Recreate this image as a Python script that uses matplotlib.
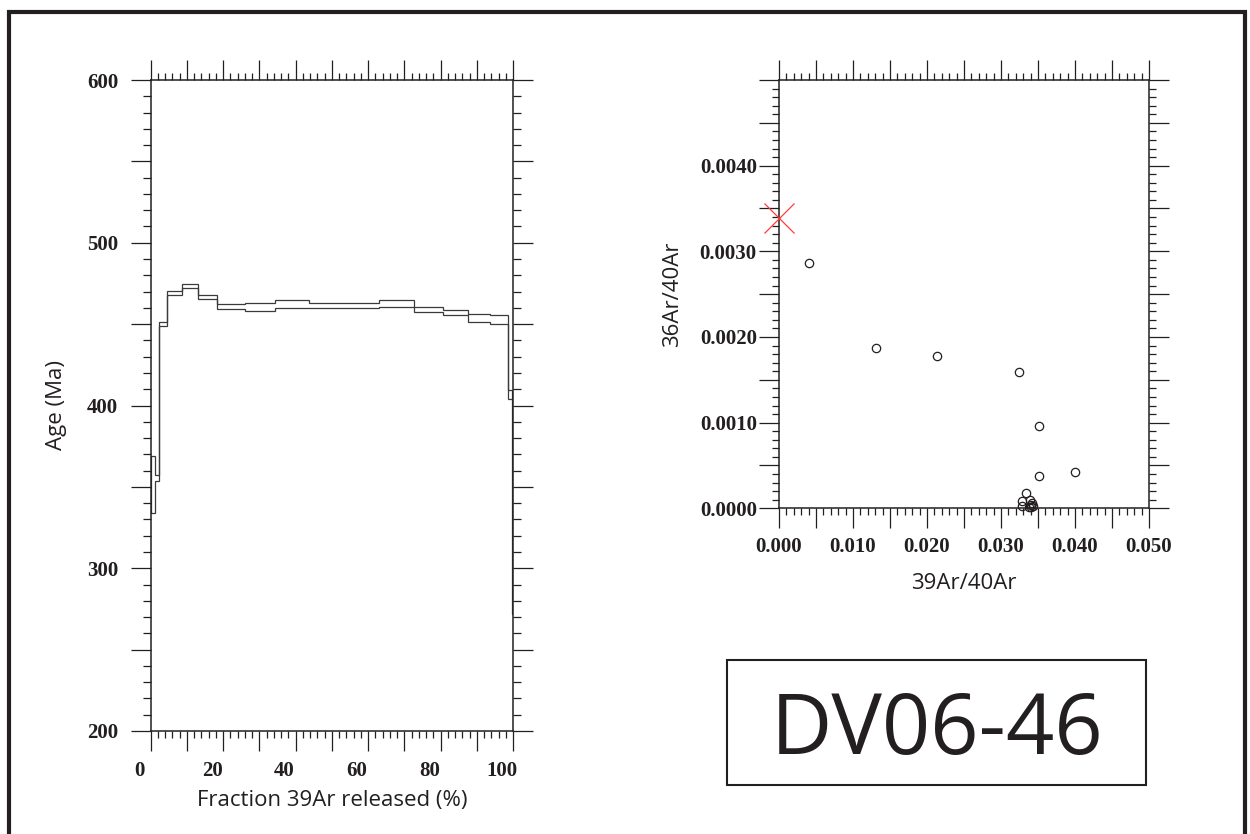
import numpy as np
import matplotlib.pyplot as plt
import matplotlib.transforms as mtransforms
from matplotlib.patches import Rectangle
from matplotlib.ticker import FixedLocator, FuncFormatter

W, H = 1250, 834

# age spectrum: cumulative 39Ar release (%) and 1-sigma age envelope of each step (Ma)
step_edges = [0, 1.1, 2.3, 4.6, 8.56, 13.07, 18.23, 26.05, 34.34, 43.81,
              53.67, 63.07, 72.73, 80.66, 87.57, 93.73, 98.51, 99.72, 100]
age_high = [369, 357, 451.5, 470.1, 474.6, 467.7, 462.6, 463.0, 464.8,
            463.0, 463.0, 465.0, 460.5, 458.9, 456.2, 455.8, 409.4, 404]
age_low = [334, 353.6, 448.7, 468.1, 472.2, 465.6, 459.5, 458.3, 459.7,
           459.7, 459.7, 460.5, 457.3, 455.4, 451.5, 450.3, 404.1, 272]

# inverse isochron
ar39_ar40 = [0.0041, 0.01315, 0.02135, 0.03239, 0.03509, 0.03509, 0.04005,
             0.03342, 0.0329, 0.0329, 0.0339, 0.0341, 0.0340, 0.0342,
             0.0338, 0.0343]
ar36_ar40 = [0.002859, 0.001874, 0.001777, 0.001587, 0.000964, 0.000380,
             0.000423, 0.000182, 0.00008, 0.00003, 0.00010, 0.00004,
             0.00002, 0.00006, 0.00001, 0.00003]
trapped_x = [0.0]
trapped_y = [0.00339]

sample_name = "DV06-46"

INK = "#231f20"
TICK_FONT = dict(family="Liberation Serif", weight="bold", size=15)
LABEL_FONT = dict(family="Open Sans", size=16)


def px_box(x0, y0, x1, y1):
    # pixel box (top-left origin) -> figure fraction rect
    return [x0 / W, 1 - y1 / H, (x1 - x0) / W, (y1 - y0) / H]


def three_level_ticks(axis, lo, hi, minor, medium, major, fmt, lengths,
                      label_max=None):
    big, mid, small = lengths
    if label_max is None:
        label_max = hi
    axis.set_major_locator(FixedLocator(np.arange(lo, hi + medium / 2, medium)))
    axis.set_minor_locator(FixedLocator(np.arange(lo, hi + minor / 2, minor)))

    def label(v, pos):
        k = v / major
        if abs(k - round(k)) < 1e-6 and v <= label_max + 1e-12:
            return fmt % v
        return ""

    axis.set_major_formatter(FuncFormatter(label))
    axis.set_tick_params(which="major", length=big)
    axis.set_tick_params(which="minor", length=small)
    locs = axis.get_majorticklocs()
    for tick, v in zip(axis.get_major_ticks(len(locs)), locs):
        k = v / major
        size = big if abs(k - round(k)) < 1e-6 else mid
        tick.tick1line.set_markersize(size)
        tick.tick2line.set_markersize(size)


def frame_axes(ax):
    for sp in ax.spines.values():
        sp.set_linewidth(1.1)
        sp.set_color(INK)
    ax.tick_params(which="both", direction="out", top=True, right=True,
                   width=0.9, color=INK)
    ax.tick_params(which="major", labelsize=TICK_FONT["size"],
                   labelcolor=INK)


fig = plt.figure(figsize=(W / 100, H / 100), dpi=100)

# ---- age spectrum ----
ax1 = fig.add_axes(px_box(150.7, 80, 513, 731))
frame_axes(ax1)
ax1.stairs(age_high, step_edges, baseline=age_low, fill=False,
           color="#3a3a3a", linewidth=0.9)
ax1.set_xlim(0, 100)
ax1.set_ylim(200, 600)
three_level_ticks(ax1.xaxis, 0, 100, 2, 10, 20, "%d", (14.5, 10, 5))
three_level_ticks(ax1.yaxis, 200, 600, 10, 50, 100, "%d", (14.5, 10, 5.5))
ax1.tick_params(axis="x", which="major", pad=7)
ax1.tick_params(axis="y", which="major", pad=9)
shift = mtransforms.ScaledTranslation(-0.11, 0, fig.dpi_scale_trans)
for tick in ax1.xaxis.get_major_ticks():
    tick.label1.set_transform(tick.label1.get_transform() + shift)
for lab in ax1.get_xticklabels() + ax1.get_yticklabels():
    lab.set_fontfamily(TICK_FONT["family"])
    lab.set_fontweight(TICK_FONT["weight"])
ax1.set_xlabel("Fraction 39Ar released (%)", color=INK, **LABEL_FONT)
ax1.set_ylabel("Age (Ma)", color=INK, **LABEL_FONT)
ax1.xaxis.set_label_coords(0.5, -0.09)
ax1.yaxis.set_label_coords(-0.232, 0.5)

# ---- inverse isochron ----
ax2 = fig.add_axes(px_box(779, 80, 1149, 508.3))
frame_axes(ax2)
ax2.plot(ar39_ar40, ar36_ar40, linestyle="none", marker="o", markersize=6,
         markerfacecolor="none", markeredgecolor=INK, markeredgewidth=0.9,
         clip_on=False)
ax2.plot(trapped_x, trapped_y, linestyle="none", marker="x", markersize=21,
         markeredgecolor="#ff3b3b", markeredgewidth=0.9, clip_on=False,
         zorder=5)
ax2.set_xlim(0, 0.05)
ax2.set_ylim(0, 0.005)
three_level_ticks(ax2.xaxis, 0, 0.05, 0.001, 0.005, 0.01, "%.3f",
                  (14.5, 9.5, 5))
three_level_ticks(ax2.yaxis, 0, 0.005, 0.0001, 0.0005, 0.001, "%.4f",
                  (14.5, 9.5, 5), label_max=0.004)
ax2.tick_params(axis="x", which="major", pad=6)
ax2.tick_params(axis="y", which="major", pad=1.5)
for lab in ax2.get_xticklabels() + ax2.get_yticklabels():
    lab.set_fontfamily(TICK_FONT["family"])
    lab.set_fontweight(TICK_FONT["weight"])
ax2.set_xlabel("39Ar/40Ar", color=INK, **LABEL_FONT)
ax2.set_ylabel("36Ar/40Ar", color=INK, **LABEL_FONT)
ax2.xaxis.set_label_coords(0.5, -0.15)
ax2.yaxis.set_label_coords(-0.26, 0.5)

# ---- sample tag ----
fig.patches.append(Rectangle((727 / W, 1 - 785 / H), 419 / W, 125 / H,
                             transform=fig.transFigure, fill=False,
                             edgecolor=INK, linewidth=1.5))
fig.text(937 / W, 1 - 754 / H, sample_name, ha="center", va="baseline",
         family="Open Sans", fontsize=61, color=INK)

# outer border (open at the bottom edge)
fig.patches.append(Rectangle((9 / W, -0.05), 1236 / W, 1.05 - 12 / H,
                             transform=fig.transFigure, fill=False,
                             edgecolor=INK, linewidth=3))

fig.savefig("out.png", dpi=100)
